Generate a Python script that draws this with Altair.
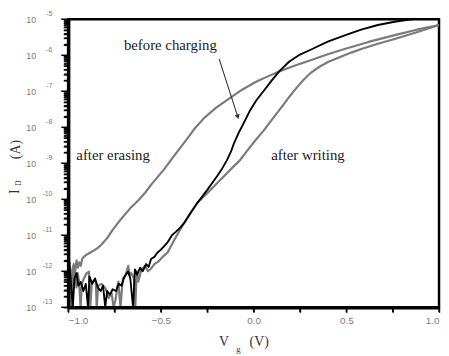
import math
import altair as alt
import pandas as pd

# Gate voltage (V) and log10 of drain current (A)
erasing_vg = [-1.000, -0.993, -0.987, -0.982, -0.977, -0.970, -0.963, -0.955, -0.948, -0.940,
              -0.932, -0.924, -0.915, -0.904, -0.880, -0.860, -0.840, -0.819, -0.790, -0.760,
              -0.729, -0.690, -0.660, -0.620, -0.585, -0.550, -0.520, -0.480, -0.447, -0.400,
              -0.360, -0.320, -0.266, -0.200, -0.128, -0.060, 0.016, 0.080, 0.138, 0.220,
              0.319, 0.400, 0.495, 0.620, 0.761, 0.880, 1.000]
erasing_log = [-12.05, -11.75, -12.15, -13.0, -11.95, -11.80, -12.05, -11.70, -11.90, -11.75,
               -11.85, -11.65, -11.60, -11.55, -11.48, -11.42, -11.35, -11.25, -11.08, -10.85,
               -10.64, -10.40, -10.22, -10.02, -9.82, -9.58, -9.40, -9.15, -8.92, -8.60,
               -8.33, -8.05, -7.74, -7.45, -7.19, -6.95, -6.73, -6.58, -6.45, -6.29,
               -6.12, -5.97, -5.82, -5.63, -5.44, -5.29, -5.16]

writing_vg = [-1.000, -0.995, -0.988, -0.980, -0.972, -0.962, -0.955, -0.948, -0.941, -0.933,
              -0.926, -0.915, -0.900, -0.888, -0.881, -0.872, -0.860, -0.851, -0.846, -0.838,
              -0.820, -0.798, -0.790, -0.782, -0.766, -0.755, -0.745, -0.735, -0.729, -0.718,
              -0.705, -0.690, -0.676, -0.668, -0.660, -0.645, -0.638, -0.630, -0.622, -0.605,
              -0.585, -0.570, -0.553, -0.535, -0.516, -0.490, -0.463, -0.430, -0.400, -0.372,
              -0.340, -0.303, -0.250, -0.200, -0.160, -0.120, -0.074, -0.030, 0.010, 0.053,
              0.100, 0.150, 0.190, 0.229, 0.270, 0.310, 0.355, 0.404, 0.470, 0.530,
              0.585, 0.670, 0.761, 0.880, 1.000]
writing_log = [-11.80, -11.74, -12.05, -13.0, -12.00, -12.20, -12.45, -12.05, -12.29, -13.0,
               -12.35, -12.20, -12.05, -12.01, -13.0, -12.30, -12.25, -12.29, -13.0, -12.40,
               -12.35, -12.48, -12.60, -12.75, -12.60, -13.0, -12.81, -12.45, -12.29, -13.0,
               -12.20, -12.10, -11.85, -12.12, -12.05, -12.20, -13.0, -12.00, -12.29, -11.95,
               -11.85, -12.00, -11.93, -11.80, -11.74, -11.60, -11.47, -11.15, -10.88, -10.64,
               -10.38, -10.10, -9.83, -9.57, -9.36, -9.15, -8.92, -8.62, -8.36, -8.10,
               -7.78, -7.45, -7.17, -6.92, -6.68, -6.48, -6.32, -6.18, -6.04, -5.92,
               -5.82, -5.68, -5.55, -5.36, -5.16]

before_vg = [-1.000, -0.993, -0.985, -0.975, -0.966, -0.955, -0.945, -0.932, -0.918, -0.905,
             -0.893, -0.885, -0.870, -0.855, -0.840, -0.825, -0.812, -0.800, -0.790, -0.775,
             -0.760, -0.742, -0.728, -0.712, -0.700, -0.690, -0.676, -0.665, -0.650, -0.640,
             -0.628, -0.612, -0.598, -0.580, -0.566, -0.553, -0.535, -0.518, -0.500, -0.482,
             -0.463, -0.440, -0.418, -0.395, -0.372, -0.340, -0.303, -0.250, -0.197, -0.170,
             -0.144, -0.120, -0.106, -0.080, -0.050, -0.021, 0.015, 0.053, 0.095, 0.138,
             0.191, 0.250, 0.319, 0.400, 0.495, 0.580, 0.670, 0.760, 0.851, 0.930, 1.000]
before_log = [-12.00, -11.85, -12.30, -13.0, -12.20, -12.05, -12.40, -12.30, -12.55, -12.35,
              -13.0, -12.15, -12.35, -12.20, -12.45, -12.55, -12.40, -13.0, -12.55, -12.65,
              -12.50, -12.55, -12.35, -12.40, -12.20, -12.10, -12.01, -12.20, -13.0, -11.95,
              -12.10, -11.90, -12.00, -11.80, -11.88, -11.66, -11.60, -11.48, -11.40, -11.30,
              -11.19, -11.00, -10.90, -10.78, -10.64, -10.38, -10.10, -9.74, -9.36, -9.15,
              -8.92, -8.65, -8.45, -8.15, -7.85, -7.55, -7.25, -7.00, -6.72, -6.45,
              -6.18, -5.98, -5.82, -5.62, -5.44, -5.29, -5.16, -5.07, -5.00, -4.97, -4.95]

x_tick_values = [-1.0, -0.75, -0.5, -0.25, 0.0, 0.25, 0.5, 0.75, 1.0]
y_decades = [-13, -12, -11, -10, -9, -8, -7, -6, -5]
y_minor_multipliers = [1, 2, 3, 4, 5, 6, 7, 8, 9]

annot_text = ["before charging", "after erasing", "after writing"]
annot_vg = [-0.449, -0.758, 0.293]
annot_log = [-5.71, -8.78, -8.78]

GREY = "#7a7a7a"
TICK_GREY = "#7a7a7a"
SERIF = "Liberation Serif"
SANS = "Liberation Sans"


def series(vg, lg):
    return pd.DataFrame({"Vg": vg, "ID": [10.0 ** v for v in lg], "k": list(range(len(vg)))})


y_tick_values = [m * 10.0 ** e for e in y_decades[:-1] for m in y_minor_multipliers] + [10.0 ** y_decades[-1]]

x_scale = alt.Scale(domain=[-1.0, 1.0], nice=False, zero=False)
y_scale = alt.Scale(type="log", domain=[1e-13, 1e-5], nice=False)

is_decade = "abs(log(datum.value)/LN10 - round(log(datum.value)/LN10)) < 0.001"
is_half = "abs(datum.value*2 - round(datum.value*2)) < 0.001"

x_axis = alt.Axis(
    values=x_tick_values,
    labelExpr=f"{is_half} ? format(datum.value, '.1f') : ''",
    tickSize=5, tickWidth=1.4, tickColor="black", domainColor="black", domainWidth=3.5,
    labelFont=SANS, labelFontSize=10, labelColor=TICK_GREY, labelPadding=3,
    title=None, grid=False, labelOverlap=False, zindex=1,
)
y_axis = alt.Axis(
    values=y_tick_values,
    labelExpr=f"{is_decade} ? '10' : ''",
    tickSize=5, tickWidth=1.4, tickColor="black", domainColor="black", domainWidth=3.5,
    labelAlign="left", labelPadding=38,
    labelFont=SANS, labelFontSize=9, labelColor=TICK_GREY,
    title=None, grid=False, labelOverlap=False, zindex=1,
)


def X(field="Vg"):
    return alt.X(f"{field}:Q", scale=x_scale, axis=x_axis)


def Y(field="ID"):
    return alt.Y(f"{field}:Q", scale=y_scale, axis=y_axis)


def line_layer(df, color, width):
    return alt.Chart(df).mark_line(color=color, strokeWidth=width, clip=True, strokeJoin="round").encode(
        x=X(), y=Y(), order="k:Q"
    )


erasing = line_layer(series(erasing_vg, erasing_log), GREY, 2.2)
writing = line_layer(series(writing_vg, writing_log), GREY, 2.2)
before = line_layer(series(before_vg, before_log), "black", 1.9)

annot_df = pd.DataFrame({"t": annot_text, "Vg": annot_vg, "ID": [10.0 ** v for v in annot_log]})
annots = alt.Chart(annot_df).mark_text(font=SERIF, fontSize=15, color="#222", align="center",
                                       baseline="middle").encode(x=X(), y=Y(), text="t:N")

arrow_df = pd.DataFrame({"Vg": [-0.186], "ID": [10.0 ** -6.10], "Vg2": [-0.085], "ID2": [10.0 ** -7.71]})
arrow_line = alt.Chart(arrow_df).mark_rule(color="#333", strokeWidth=1.1).encode(
    x=X(), y=Y(), x2="Vg2:Q", y2="ID2:Q")
arrow_head = alt.Chart(arrow_df).mark_point(shape="triangle-down", filled=True, size=28, angle=342,
                                            color="#333", opacity=1).encode(x=X("Vg2"), y=Y("ID2"))

# tick marks along the left and bottom axes (drawn from the tick arrays)
ytick_df = pd.DataFrame({"Vg": [-1.0] * len(y_tick_values), "ID": y_tick_values})
ytick_df["major"] = [abs(round(math.log10(v)) - math.log10(v)) < 1e-6 for v in y_tick_values]
yticks_minor = alt.Chart(ytick_df[~ytick_df.major]).mark_point(
    shape="stroke", size=16, color="black", strokeWidth=1.3, opacity=1, xOffset=-2).encode(x=X(), y=Y())
yticks_major = alt.Chart(ytick_df[ytick_df.major]).mark_point(
    shape="stroke", size=49, color="black", strokeWidth=1.5, opacity=1, xOffset=-3.5).encode(x=X(), y=Y())
xtick_df = pd.DataFrame({"Vg": x_tick_values, "ID": [1e-13] * len(x_tick_values)})
xticks = alt.Chart(xtick_df).mark_point(
    shape="stroke", size=25, angle=90, color="black", strokeWidth=1.4, opacity=1, yOffset=2.5).encode(
    x=X(), y=Y())

# exponents of the y tick labels
exp_df = pd.DataFrame({"Vg": [-1.0] * len(y_decades), "ID": [10.0 ** e for e in y_decades],
                       "t": [str(e) for e in y_decades]})
exps = alt.Chart(exp_df).mark_text(font=SANS, fontSize=7, color=TICK_GREY, align="right",
                                   baseline="middle", dx=-16, dy=-5).encode(x=X(), y=Y(), text="t:N")

# axis titles
ytitle_df = pd.DataFrame({"Vg": [-1.0, -1.0, -1.0], "ID": [10.0 ** -9.79, 10.0 ** -9.55, 10.0 ** -8.62],
                          "t": ["I", "D", "(A)"], "fs": [14, 8, 14], "off": [-54, -50, -53]})
ytitle_parts = []
for i in range(3):
    ytitle_parts.append(alt.Chart(ytitle_df.iloc[[i]]).mark_text(
        font=SERIF, fontSize=int(ytitle_df.fs[i]), color="#333", angle=270, align="center",
        baseline="middle", dy=int(ytitle_df.off[i])).encode(x=X(), y=Y(), text="t:N"))

xtitle_df = pd.DataFrame({"Vg": [-0.160, -0.082, 0.030], "ID": [1e-13] * 3, "t": ["V", "g", "(V)"],
                          "fs": [14, 9, 14], "off": [35, 42, 35]})
xtitle_parts = []
for i in range(3):
    xtitle_parts.append(alt.Chart(xtitle_df.iloc[[i]]).mark_text(
        font=SERIF, fontSize=int(xtitle_df.fs[i]), color="#333", align="center",
        baseline="middle", dy=int(xtitle_df.off[i])).encode(x=X(), y=Y(), text="t:N"))

chart = alt.layer(
    erasing, writing, before, annots, arrow_line, arrow_head, yticks_minor, yticks_major, xticks,
    exps, *ytitle_parts, *xtitle_parts
).properties(
    width=376, height=292,
    autosize=alt.AutoSizeParams(type="none"),
    padding={"left": 61, "top": 9, "right": 2, "bottom": 45},
).configure_view(stroke="black", strokeWidth=2.5)

chart.save("out.html", embed_options={"renderer": "svg", "actions": False})
